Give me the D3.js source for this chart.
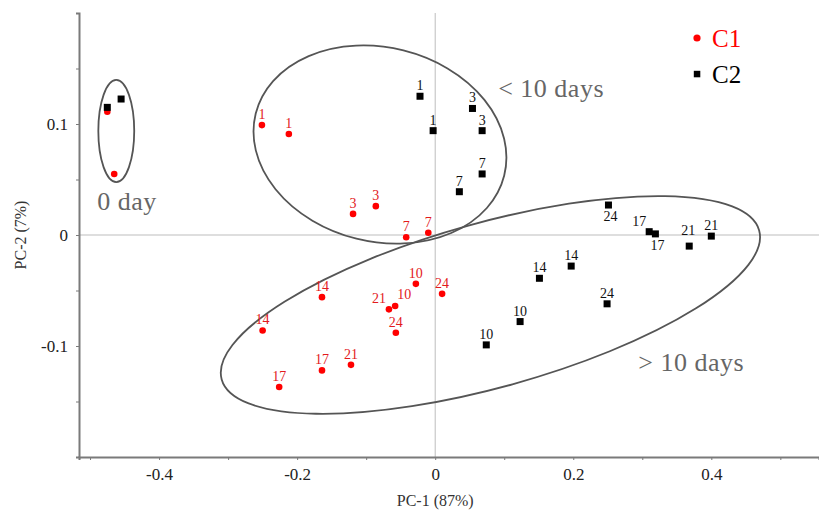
<!DOCTYPE html>
<html>
<head>
<meta charset="utf-8">
<script src="https://cdn.jsdelivr.net/npm/d3@7"></script>
<style>
  body { margin: 0; background: #fff; }
  svg text { font-family: "Liberation Serif", "Times New Roman", "DejaVu Serif", serif !important; }
</style>
</head>
<body>
<div id="chart"></div>
<script>
// sampling days (labels) and PCA scores for each group
var c1Days = [0, 0, 1, 1, 3, 3, 7, 7, 10, 10, 14, 14, 17, 17, 21, 21, 24, 24];
var c1PC1 = [-0.475, -0.465, -0.251, -0.212, -0.119, -0.086, -0.042, -0.010, -0.028, -0.058,
             -0.164, -0.250, -0.164, -0.226, -0.067, -0.122, 0.010, -0.057];
var c1PC2 = [0.111, 0.055, 0.099, 0.091, 0.019, 0.026, -0.002, 0.002, -0.044, -0.064,
             -0.056, -0.086, -0.122, -0.137, -0.067, -0.117, -0.053, -0.088];
var c1LabelPos = ['none', 'none', 'n', 'n', 'n', 'n', 'n', 'n', 'n', 'ne',
                  'n', 'n', 'n', 'n', 'nw', 'n', 'n', 'n'];

var c2Days = [0, 0, 1, 1, 3, 3, 7, 7, 10, 10, 14, 14, 17, 17, 21, 21, 24, 24];
var c2PC1 = [-0.475, -0.455, -0.022, -0.003, 0.054, 0.068, 0.068, 0.035, 0.123, 0.074,
             0.151, 0.197, 0.310, 0.319, 0.368, 0.400, 0.249, 0.251];
var c2PC2 = [0.115, 0.1225, 0.125, 0.094, 0.114, 0.094, 0.055, 0.039, -0.078, -0.099,
             -0.039, -0.028, 0.003, 0.001, -0.010, -0.001, -0.062, 0.027];
var c2LabelPos = ['none', 'none', 'n', 'n', 'n', 'n', 'n', 'n', 'n', 'n',
                  'n', 'n', 'nw', 's', 'nn', 'n', 'n', 's'];

var xTicks = [-0.4, -0.2, 0, 0.2, 0.4];
var yTicks = [-0.1, 0, 0.1];

// groupings: centre, radii (data units), rotation in degrees
var groupNames = ['0 day', '< 10 days', '> 10 days'];
var groupCx = [-0.462, -0.080, 0.080];
var groupCy = [0.0937, 0.0815, -0.063];
var groupRx = [0.026, 0.1855, 0.404];
var groupRy = [0.046, 0.0874, 0.0742];
var groupRot = [0, 14, -15.5];
var groupLabelX = [-0.4896, 0.0913, 0.2942];
var groupLabelY = [0.0225, 0.124, -0.1225];

var w = 819, h = 511;
var svg = d3.select('#chart').append('svg').attr('width', w).attr('height', h);

var x = d3.scaleLinear().domain([-0.516, 0.556]).range([79, 819]);
var y = d3.scaleLinear().domain([-0.2, 0.2]).range([457, 13]);

// zero reference lines
svg.append('line').attr('x1', x(-0.516)).attr('x2', x(0.556))
  .attr('y1', y(0)).attr('y2', y(0)).attr('stroke', '#bdbdbd').attr('stroke-width', 1);
svg.append('line').attr('x1', x(0)).attr('x2', x(0))
  .attr('y1', y(0.2)).attr('y2', y(-0.2)).attr('stroke', '#bdbdbd').attr('stroke-width', 1);

// axes
var xAxis = d3.axisBottom(x).tickValues(d3.range(-0.5, 0.56, 0.1)).tickSize(3)
  .tickFormat(function (d) {
    var r = Math.round(d * 10) / 10;
    return xTicks.indexOf(r) >= 0 ? (r === 0 ? '0' : r.toString()) : '';
  });
var gx = svg.append('g').attr('transform', 'translate(0,' + y(-0.2) + ')').call(xAxis);

var yAxis = d3.axisLeft(y).tickValues(d3.range(-0.15, 0.16, 0.05)).tickSize(3)
  .tickFormat(function (d) {
    var r = Math.round(d * 100) / 100;
    return yTicks.indexOf(r) >= 0 ? (r === 0 ? '0' : r.toString()) : '';
  });
var gy = svg.append('g').attr('transform', 'translate(' + x(-0.516) + ',0)').call(yAxis);

[gx, gy].forEach(function (g) {
  g.attr('font-family', null);
  g.select('.domain').attr('stroke', '#7a7a7a').attr('stroke-width', 2);
  g.selectAll('.tick line').attr('stroke', '#7a7a7a');
  g.selectAll('.tick text').attr('fill', '#222').style('font-size', '17px');
});
gx.selectAll('.tick text').attr('dy', '1.0em');
gy.selectAll('.tick text').attr('x', -11);

svg.append('text').attr('x', x(0)).attr('y', 506).attr('text-anchor', 'middle')
  .attr('fill', '#333').style('font-size', '16px').text('PC-1 (87%)');
svg.append('text').attr('transform', 'translate(26,' + y(0) + ') rotate(-90)')
  .attr('text-anchor', 'middle').attr('fill', '#333').style('font-size', '16px').text('PC-2 (7%)');

// group ellipses
groupNames.forEach(function (name, i) {
  var cx = x(groupCx[i]), cy = y(groupCy[i]);
  svg.append('ellipse')
    .attr('cx', 0).attr('cy', 0)
    .attr('rx', x(groupRx[i]) - x(0)).attr('ry', y(0) - y(groupRy[i]))
    .attr('transform', 'translate(' + cx + ',' + cy + ') rotate(' + groupRot[i] + ')')
    .attr('fill', 'none').attr('stroke', '#555').attr('stroke-width', 1.8);
  svg.append('text').attr('x', x(groupLabelX[i])).attr('y', y(groupLabelY[i]))
    .attr('fill', '#666').style('font-size', '26px').style('letter-spacing', '0.5px').text(name);
});

function labelOffset(pos) {
  if (pos === 'ne') return [9, -7];
  if (pos === 'nw') return [-10, -6];
  if (pos === 's') return [2, 16];
  if (pos === 'nn') return [-1, -11];
  return [0, -6];
}

function drawLabels(days, pc1, pc2, posList, color) {
  days.forEach(function (d, i) {
    if (posList[i] === 'none') return;
    var o = labelOffset(posList[i]);
    svg.append('text').attr('x', x(pc1[i]) + o[0]).attr('y', y(pc2[i]) + o[1])
      .attr('text-anchor', 'middle').attr('fill', color).style('font-size', '14px').text(d);
  });
}

// C1: red circles
svg.selectAll('circle.c1').data(c1Days).enter().append('circle').attr('class', 'c1')
  .attr('cx', function (d, i) { return x(c1PC1[i]); })
  .attr('cy', function (d, i) { return y(c1PC2[i]); })
  .attr('r', 3.3).attr('fill', '#f00');
drawLabels(c1Days, c1PC1, c1PC2, c1LabelPos, '#e31a1c');

// C2: black squares
svg.selectAll('rect.c2').data(c2Days).enter().append('rect').attr('class', 'c2')
  .attr('x', function (d, i) { return x(c2PC1[i]) - 3.5; })
  .attr('y', function (d, i) { return y(c2PC2[i]) - 3.5; })
  .attr('width', 7).attr('height', 7).attr('fill', '#000');
drawLabels(c2Days, c2PC1, c2PC2, c2LabelPos, '#111');

// legend
var legend = svg.append('g').attr('transform', 'translate(697,38)');
legend.append('circle').attr('cx', 0).attr('cy', 0).attr('r', 3.6).attr('fill', '#f00');
legend.append('text').attr('x', 15).attr('y', 9).attr('fill', '#f00').style('font-size', '25px').text('C1');
legend.append('rect').attr('x', -3.2).attr('y', 32.8).attr('width', 6.5).attr('height', 6.5).attr('fill', '#000');
legend.append('text').attr('x', 15).attr('y', 45).attr('fill', '#000').style('font-size', '25px').text('C2');
</script>
</body>
</html>
